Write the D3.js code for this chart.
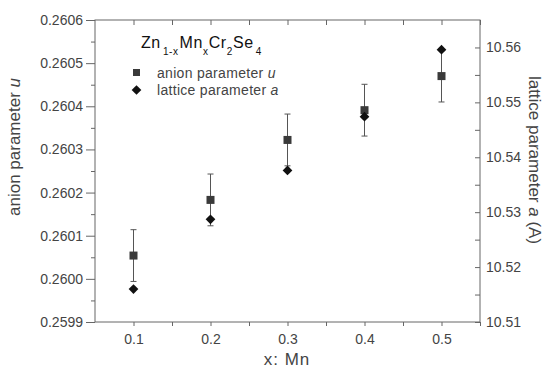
<!DOCTYPE html>
<html>
<head>
<meta charset="utf-8">
<script src="https://cdn.jsdelivr.net/npm/d3@7"></script>
<style>
  body { margin: 0; background: #fff; }
  text { font-family: "Liberation Sans", Arial, sans-serif; }
</style>
</head>
<body>
<div id="container"></div>
<script>
// data
const xValues = [0.1, 0.2, 0.3, 0.4, 0.5];
const anionU = [0.260054, 0.260183, 0.260322, 0.260391, 0.260470];
const anionErr = [0.00006, 0.00006, 0.00006, 0.00006, 0.00006];
const latticeA = [10.5160, 10.5287, 10.5376, 10.5474, 10.5596];

const xTicks = [0.1, 0.2, 0.3, 0.4, 0.5];
const uTicks = [0.2599, 0.2600, 0.2601, 0.2602, 0.2603, 0.2604, 0.2605, 0.2606];
const aTicks = [10.51, 10.52, 10.53, 10.54, 10.55, 10.56];

const widthSVG = 551, heightSVG = 371;
const margin = {top: 20, bottom: 50, left: 95, right: 71};
const axisColor = "#666", textColor = "#444";

const svg = d3.select('#container')
  .append('svg')
  .attr('width', widthSVG)
  .attr('height', heightSVG);

const x = d3.scaleLinear().domain([0.05, 0.55]).range([margin.left, widthSVG - margin.right]);
const yU = d3.scaleLinear().domain([0.2599, 0.2606]).range([heightSVG - margin.bottom + 1, margin.top]);
const yA = d3.scaleLinear().domain([10.51, 10.565]).range([heightSVG - margin.bottom + 1, margin.top]);

const x0 = margin.left, x1 = widthSVG - margin.right;
const y0 = heightSVG - margin.bottom + 1, y1 = margin.top;

// frame
svg.append("rect")
  .attr("x", x0).attr("y", y1)
  .attr("width", x1 - x0).attr("height", y0 - y1)
  .attr("fill", "none").attr("stroke", axisColor).attr("stroke-width", 1);

// bottom axis (ticks down), top axis (ticks in)
const xAllTicks = d3.range(0.1, 0.551, 0.05);
svg.append("g").attr("transform", `translate(0,${y0})`)
  .call(d3.axisBottom(x).tickValues(xAllTicks).tickSize(4).tickFormat(""));
svg.append("g").attr("transform", `translate(0,${y1})`)
  .call(d3.axisBottom(x).tickValues(xAllTicks).tickSize(5).tickFormat(""));
svg.append("g").attr("transform", `translate(0,${y0})`)
  .call(d3.axisBottom(x).tickValues(xTicks).tickSize(0).tickPadding(12).tickFormat(d3.format(".1f")));

// left axis: major out, minor out shorter
const uMinor = d3.range(0.25995, 0.2606, 0.0001);
svg.append("g").attr("transform", `translate(${x0},0)`)
  .call(d3.axisLeft(yU).tickValues(uMinor).tickSize(4).tickFormat(""));
svg.append("g").attr("transform", `translate(${x0},0)`)
  .call(d3.axisLeft(yU).tickValues(uTicks).tickSize(9).tickPadding(3).tickFormat(d3.format(".4f")));

// right axis: ticks inward
const aMinor = d3.range(10.515, 10.565, 0.01);
svg.append("g").attr("transform", `translate(${x1},0)`)
  .call(d3.axisLeft(yA).tickValues(aMinor).tickSize(5).tickFormat(""));
svg.append("g").attr("transform", `translate(${x1},0)`)
  .call(d3.axisLeft(yA).tickValues(aTicks).tickSize(5).tickFormat(""));
svg.append("g").attr("transform", `translate(${x1},0)`)
  .call(d3.axisRight(yA).tickValues(aTicks).tickSize(0).tickPadding(6).tickFormat(d3.format(".2f")));

svg.selectAll(".domain").remove();
svg.selectAll(".tick line").attr("stroke", axisColor);
svg.selectAll(".tick text")
  .attr("fill", textColor)
  .style("font-size", "14px")
  .style("font-family", "'Liberation Sans', Arial, sans-serif");

// axis titles
svg.append("text")
  .attr("transform", `translate(20,${(y0 + y1) / 2 - 24}) rotate(-90)`)
  .attr("text-anchor", "middle")
  .attr("fill", textColor)
  .style("font-size", "17px")
  .html('anion parameter <tspan font-style="italic">u</tspan>');

svg.append("text")
  .attr("transform", `translate(529,${(y0 + y1) / 2 - 11}) rotate(90)`)
  .attr("text-anchor", "middle")
  .attr("fill", textColor)
  .style("font-size", "17px")
  .html('lattice parameter <tspan font-style="italic">a</tspan> (A)');

svg.append("text")
  .attr("x", 287).attr("y", 365)
  .attr("text-anchor", "middle")
  .attr("fill", textColor)
  .style("font-size", "17px")
  .style("letter-spacing", "1px")
  .text("x: Mn");

// error bars
const bars = svg.append("g").attr("stroke", "#555").attr("stroke-width", 1);
xValues.forEach((xv, i) => {
  const cx = x(xv);
  const top = yU(anionU[i] + anionErr[i]), bot = yU(anionU[i] - anionErr[i]);
  bars.append("line").attr("x1", cx).attr("x2", cx).attr("y1", top).attr("y2", bot);
  bars.append("line").attr("x1", cx - 3).attr("x2", cx + 3).attr("y1", top).attr("y2", top);
  bars.append("line").attr("x1", cx - 3).attr("x2", cx + 3).attr("y1", bot).attr("y2", bot);
});

// anion parameter squares
svg.append("g").selectAll("rect")
  .data(xValues)
  .enter()
  .append("rect")
  .attr("x", d => x(d) - 4)
  .attr("y", (d, i) => yU(anionU[i]) - 4)
  .attr("width", 8).attr("height", 8)
  .attr("fill", "#3a3a3a");

// lattice parameter diamonds
const diamond = d3.symbol().type(d3.symbolDiamond2).size(60);
svg.append("g").selectAll("path")
  .data(xValues)
  .enter()
  .append("path")
  .attr("d", diamond)
  .attr("transform", (d, i) => `translate(${x(d)},${yA(latticeA[i])})`)
  .attr("fill", "#111");

// legend
const legend = svg.append("g");
const title = legend.append("text")
  .attr("x", 141).attr("y", 48)
  .attr("fill", "#111")
  .style("font-size", "16px")
  .style("letter-spacing", "0.6px");
title.append("tspan").text("Zn");
title.append("tspan").attr("dy", 7).attr("dx", 2).style("font-size", "10px").text("1-x");
title.append("tspan").attr("dy", -7).attr("dx", 1).text("Mn");
title.append("tspan").attr("dy", 7).style("font-size", "10px").text("x");
title.append("tspan").attr("dy", -7).text("Cr");
title.append("tspan").attr("dy", 7).style("font-size", "10px").text("2");
title.append("tspan").attr("dy", -7).text("Se");
title.append("tspan").attr("dy", 7).attr("dx", 2).style("font-size", "10px").text("4");

legend.append("rect")
  .attr("x", 133).attr("y", 69).attr("width", 7).attr("height", 7)
  .attr("fill", "#3a3a3a");
legend.append("path")
  .attr("d", diamond)
  .attr("transform", "translate(136.5,90)")
  .attr("fill", "#111");
legend.append("text")
  .attr("x", 157).attr("y", 78)
  .attr("fill", textColor)
  .style("font-size", "14px")
  .style("letter-spacing", "0.3px")
  .html('anion parameter <tspan font-style="italic">u</tspan>');
legend.append("text")
  .attr("x", 157).attr("y", 95)
  .attr("fill", textColor)
  .style("font-size", "14px")
  .style("letter-spacing", "0.3px")
  .html('lattice parameter <tspan font-style="italic">a</tspan>');
</script>
</body>
</html>
